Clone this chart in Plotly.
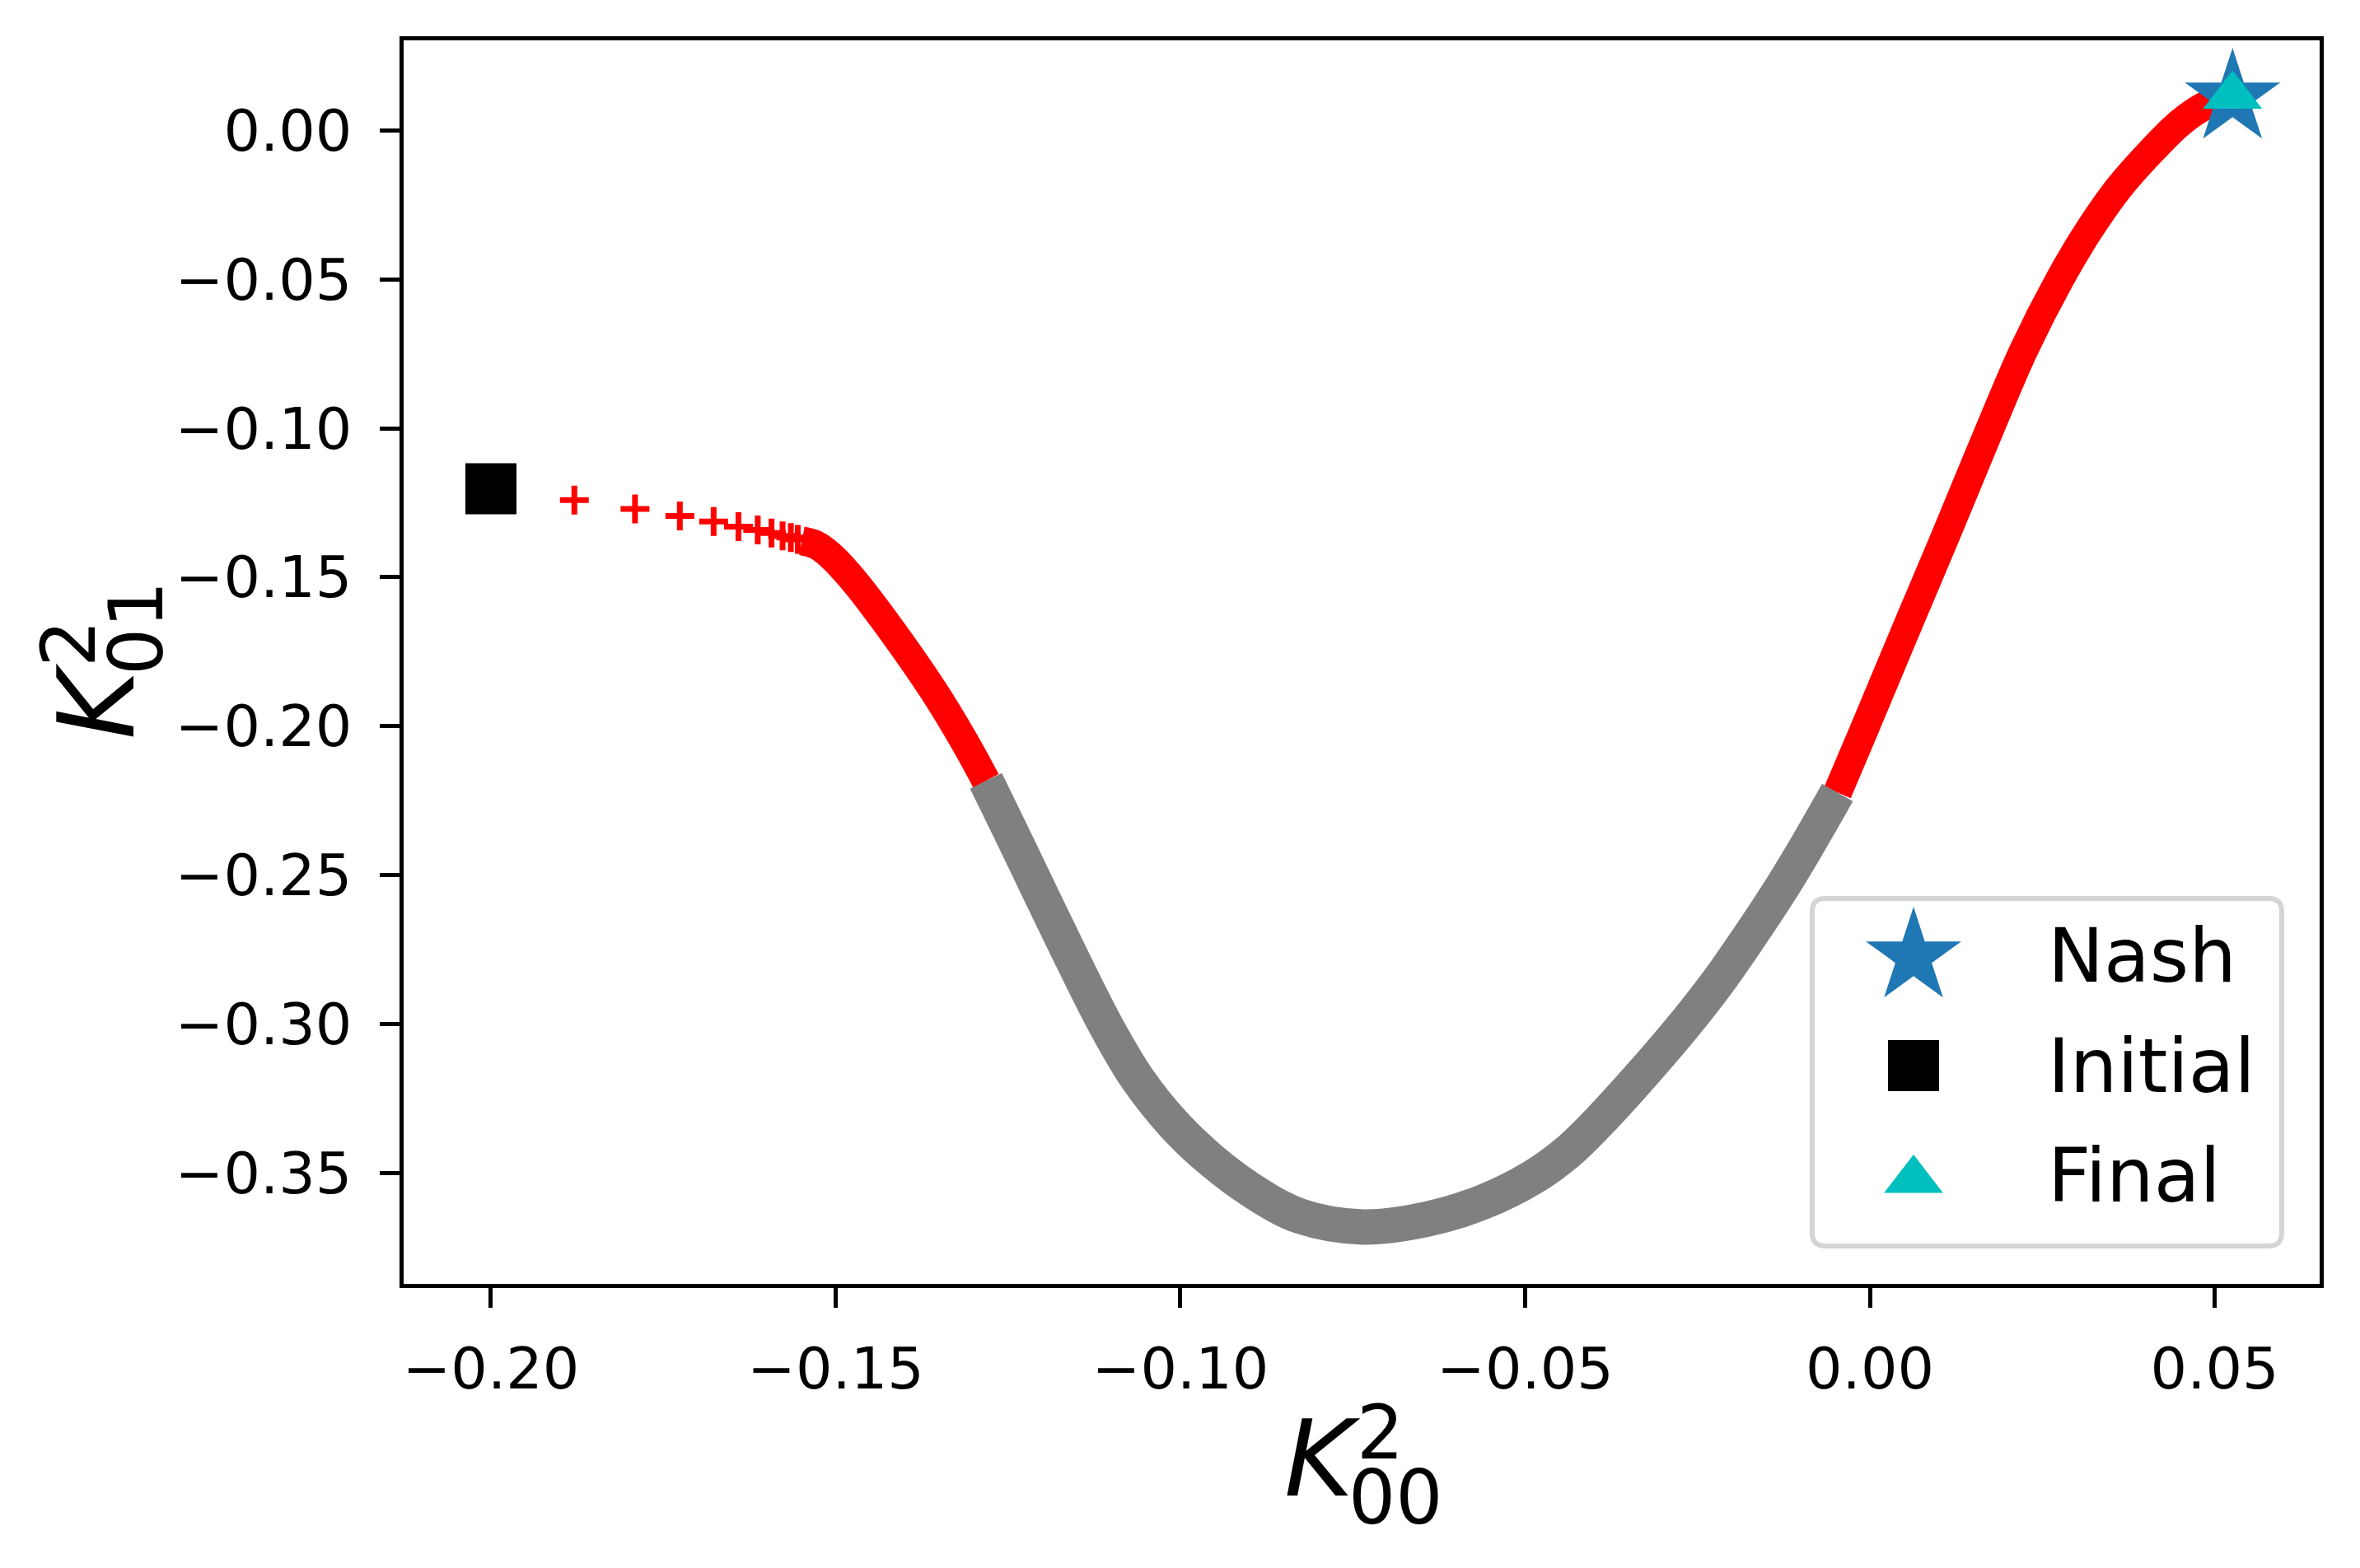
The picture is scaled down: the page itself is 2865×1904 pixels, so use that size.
import plotly.graph_objects as go

# trajectory (K00^2, K01^2)
plus_x = [-0.1879, -0.1791, -0.1726, -0.1677, -0.1641, -0.1613, -0.1593, -0.1577, -0.1565, -0.1555]
plus_y = [-0.1241, -0.1271, -0.1294, -0.1313, -0.1330, -0.1341, -0.1352, -0.1361, -0.1367, -0.1373]

red1_x = [-0.1549, -0.1528, -0.1507, -0.1472, -0.1412, -0.1357, -0.1313, -0.1282]
red1_y = [-0.1378, -0.1392, -0.1428, -0.1516, -0.1700, -0.1885, -0.2053, -0.2184]

gray_x = [-0.1282, -0.1238, -0.1166, -0.1108, -0.1063, -0.1009, -0.0954, -0.0890, -0.0826,
          -0.0735, -0.0643, -0.0562, -0.0488, -0.0438, -0.0392, -0.0323, -0.0269, -0.0222,
          -0.0177, -0.0131, -0.0095, -0.0047]
gray_y = [-0.2184, -0.2393, -0.2739, -0.3006, -0.3182, -0.3339, -0.3460, -0.3569, -0.3646,
          -0.3682, -0.3656, -0.3599, -0.3514, -0.3430, -0.3326, -0.3150, -0.3003, -0.2864,
          -0.2715, -0.2554, -0.2417, -0.2223]

red2_x = [-0.0047, -0.0008, 0.0050, 0.0108, 0.0164, 0.0223, 0.0276, 0.0318, 0.0362,
          0.0410, 0.0451, 0.0486, 0.0526]
red2_y = [-0.2223, -0.2010, -0.1689, -0.1371, -0.1058, -0.0738, -0.0497, -0.0334, -0.0190,
          -0.0065, 0.0028, 0.0083, 0.0113]

nash = (0.0526, 0.0109)
initial = (-0.2000, -0.1203)
final = (0.0526, 0.0116)

legend_names = ["Nash", "Initial", "Final"]

x_ticks = [-0.20, -0.15, -0.10, -0.05, 0.00, 0.05]
x_labels = ["−0.20", "−0.15", "−0.10", "−0.05", "0.00", "0.05"]
y_ticks = [0.00, -0.05, -0.10, -0.15, -0.20, -0.25, -0.30, -0.35]
y_labels = ["0.00", "−0.05", "−0.10", "−0.15", "−0.20", "−0.25", "−0.30", "−0.35"]

FONT = "DejaVu Sans"
OFF = 8                            # default body margin of the page
W, H = 2865 - 2 * OFF, 1904 - 2 * OFF
L, R, T, B = 490, 2816, 49, 1559   # plot area in reference pixels


def px(x):
    return (x - L) / (R - L)


def py(y):
    return (B - y) / (B - T)


fig = go.Figure()

fig.add_trace(go.Scatter(x=red1_x, y=red1_y, mode="lines", line=dict(color="red", width=35, shape="spline")))
fig.add_trace(go.Scatter(x=red2_x, y=red2_y, mode="lines", line=dict(color="red", width=35, shape="spline")))
fig.add_trace(go.Scatter(x=gray_x, y=gray_y, mode="lines", line=dict(color="gray", width=43, shape="spline")))
fig.add_trace(go.Scatter(x=plus_x, y=plus_y, mode="markers",
                         marker=dict(symbol="cross-thin", size=25, line=dict(width=7, color="red"))))
fig.add_trace(go.Scatter(x=[initial[0]], y=[initial[1]], mode="markers",
                         marker=dict(symbol="square", size=62, color="black", line=dict(width=0))))
fig.add_trace(go.Scatter(x=[nash[0]], y=[nash[1]], mode="markers", cliponaxis=False,
                         marker=dict(symbol="star", size=87, color="#1f77b4", line=dict(width=0))))
fig.add_trace(go.Scatter(x=[final[0]], y=[final[1]], mode="markers", cliponaxis=False,
                         marker=dict(symbol="triangle-up", size=62, color="#00bfbf", line=dict(width=0))))

# hand-made legend (matplotlib style, big keys)
lx0, lx1, ly0, ly1 = 2200, 2770, 1091, 1513
rx, ry = 16 / (R - L), 16 / (B - T)
a0, a1, b0, b1 = px(lx0), px(lx1), py(ly1), py(ly0)
path = (f"M{a0 + rx},{b0} L{a1 - rx},{b0} Q{a1},{b0} {a1},{b0 + ry} "
        f"L{a1},{b1 - ry} Q{a1},{b1} {a1 - rx},{b1} L{a0 + rx},{b1} "
        f"Q{a0},{b1} {a0},{b1 - ry} L{a0},{b0 + ry} Q{a0},{b0} {a0 + rx},{b0} Z")
fig.add_shape(type="path", path=path, xref="paper", yref="paper",
              line=dict(color="#d5d5d5", width=6), fillcolor="white", layer="below")

key_x = px(2323)
key_rows = [1162, 1294, 1433]
text_rows = [1160, 1294, 1427]
key_styles = [dict(symbol="star", size=87, color="#1f77b4"),
              dict(symbol="square", size=62, color="black"),
              dict(symbol="triangle-up", size=62, color="#00bfbf")]
for k, style in enumerate(key_styles):
    fig.add_trace(go.Scatter(x=[key_x], y=[py(key_rows[k])], mode="markers", xaxis="x2", yaxis="y2",
                             cliponaxis=False, marker=dict(line=dict(width=0), **style)))
    fig.add_annotation(x=px(2484), y=py(text_rows[k]), xref="paper", yref="paper", text=legend_names[k],
                       showarrow=False, xanchor="left", yanchor="middle",
                       font=dict(family=FONT, size=91, color="black"))

# axis labels built from pieces so that super- and subscripts stack like mathtext
label_parts = [
    ("<i>K</i>", 1605, 1771, 128, 0),
    ("2", 1675, 1739, 90, 0),
    ("00", 1694, 1818, 90, 0),
    ("<i>K</i>", 117, 852, 128, -90),
    ("2", 83, 782, 90, -90),
    ("01", 165, 762, 90, -90),
]
for text, x, y, size, ang in label_parts:
    fig.add_annotation(x=px(x), y=py(y), xref="paper", yref="paper", text=text, showarrow=False,
                       xanchor="center", yanchor="middle", textangle=ang,
                       font=dict(family=FONT, size=size, color="black"))

axis_common = dict(showgrid=False, zeroline=False, showline=True, linecolor="black", linewidth=4.5,
                   mirror=True, ticks="outside", ticklen=24, tickwidth=4.5, tickcolor="black",
                   tickfont=dict(family=FONT, size=70, color="black"))

fig.update_layout(
    width=W, height=H, autosize=False,
    margin=dict(l=L - OFF, r=W - (R - OFF), t=T - OFF, b=H - (B - OFF), pad=0),
    paper_bgcolor="white", plot_bgcolor="white",
    showlegend=False,
    xaxis=dict(range=[-0.21266, 0.06523], tickvals=x_ticks, ticktext=x_labels,
               ticklabelstandoff=14, **axis_common),
    yaxis=dict(range=[-0.38731, 0.03028], tickvals=y_ticks, ticktext=y_labels,
               ticklabelstandoff=20, **axis_common),
    xaxis2=dict(range=[0, 1], domain=[0, 1], visible=False, overlaying="x", anchor="y2"),
    yaxis2=dict(range=[0, 1], domain=[0, 1], visible=False, overlaying="y", anchor="x2"),
)

fig.write_html("out.html")
